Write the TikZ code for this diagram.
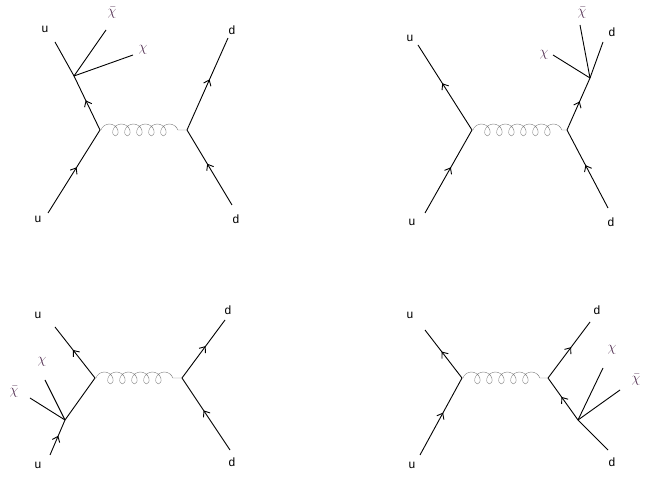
\documentclass[tikz,border=0pt]{standalone}
\usepackage{fontspec}
\setmainfont{Liberation Sans}
\usetikzlibrary{decorations.pathmorphing,decorations.markings,arrows.meta}
\begin{document}
\begin{tikzpicture}[x=1pt,y=-1pt,
 fermion/.style={draw,line width=0.9pt,postaction={decorate},decoration={markings,mark=at position 0.55 with {\arrow{Straight Barb[length=5pt,width=8pt]}}}},
 plain/.style={draw,line width=0.9pt},
 gluon/.style={draw=gray,decorate,decoration={coil,aspect=0.9,segment length=12pt,amplitude=6pt,pre length=1pt,post length=1pt}},
 lab/.style={font=\large},
 chil/.style={font=\Large,text=black!55!violet!60!gray,inner sep=0pt}]
\useasboundingbox (0,0) rectangle (654,494);
% top left
\coordinate (a1) at (48,213); \coordinate (v1) at (100,130); \coordinate (w1) at (187,130);
\coordinate (e1) at (74,76); \coordinate (o1) at (55,42); \coordinate (cb1) at (106,30); \coordinate (c1) at (133,55);
\coordinate (b1) at (232,205); \coordinate (f1) at (228,38);
\draw[fermion] (a1)--(v1); \draw[fermion] (v1)--(e1); \draw[plain] (e1)--(o1);
\draw[plain] (e1)--(cb1); \draw[plain] (e1)--(c1);
\draw[fermion] (b1)--(w1); \draw[fermion] (w1)--(f1);
\draw[gluon] (v1)--(w1);
\node[lab] (l1) at (38,219) {u}; \node[lab] (l2) at (45,29) {u};
\node[chil] (l3) at (112,13) {$\bar\chi$}; \node[chil] (l4) at (143,50) {$\chi$};
\node[lab] (l5) at (236,219) {d}; \node[lab] (l6) at (232,30) {d};
% top right
\coordinate (a2) at (425,213); \coordinate (v2) at (472,130); \coordinate (w2) at (567,130);
\coordinate (o2) at (418,45); \coordinate (b2) at (608,208);
\coordinate (e2) at (590,78); \coordinate (f2) at (603,42); \coordinate (cb2) at (580,25); \coordinate (c2) at (553,55);
\draw[fermion] (a2)--(v2); \draw[fermion] (v2)--(o2);
\draw[fermion] (b2)--(w2); \draw[fermion] (w2)--(e2); \draw[plain] (e2)--(f2);
\draw[plain] (e2)--(cb2); \draw[plain] (e2)--(c2);
\draw[gluon] (v2)--(w2);
\node[lab] (m1) at (412,222) {u}; \node[lab] (m2) at (410,38) {u};
\node[chil] (m3) at (582,13) {$\bar\chi$}; \node[chil] (m4) at (544,55) {$\chi$};
\node[lab] (m5) at (611,222) {d}; \node[lab] (m6) at (612,32) {d};
% bottom left
\coordinate (a3) at (50,455); \coordinate (e3) at (65,420); \coordinate (v3) at (95,378); \coordinate (w3) at (182,378);
\coordinate (o3) at (55,327); \coordinate (c3) at (45,380); \coordinate (cb3) at (30,398);
\coordinate (b3) at (230,450); \coordinate (f3) at (225,320);
\draw[fermion] (a3)--(e3); \draw[plain] (e3)--(v3); \draw[fermion] (v3)--(o3);
\draw[plain] (e3)--(c3); \draw[plain] (e3)--(cb3);
\draw[gluon] (v3)--(w3);
\draw[fermion] (b3)--(w3); \draw[fermion] (w3)--(f3);
\node[lab] (n1) at (38,465) {u}; \node[lab] (n2) at (38,315) {u};
\node[chil] (n3) at (42,362) {$\chi$}; \node[chil] (n4) at (14,392) {$\bar\chi$};
\node[lab] (n5) at (232,462) {d}; \node[lab] (n6) at (228,310) {d};
% bottom right
\coordinate (a4) at (420,455); \coordinate (v4) at (462,378); \coordinate (w4) at (548,378);
\coordinate (o4) at (425,330); \coordinate (f4) at (590,322);
\coordinate (b4) at (608,450); \coordinate (e4) at (578,420); \coordinate (c4) at (603,368); \coordinate (cb4) at (620,390);
\draw[fermion] (a4)--(v4); \draw[fermion] (v4)--(o4);
\draw[plain] (b4)--(e4); \draw[fermion] (e4)--(w4); \draw[fermion] (w4)--(f4);
\draw[plain] (e4)--(c4); \draw[plain] (e4)--(cb4);
\draw[gluon] (v4)--(w4);
\node[lab] (p1) at (412,465) {u}; \node[lab] (p2) at (410,315) {u};
\node[chil] (p3) at (612,350) {$\chi$}; \node[chil] (p4) at (636,380) {$\bar\chi$};
\node[lab] (p5) at (612,462) {d}; \node[lab] (p6) at (597,310) {d};
\end{tikzpicture}
\end{document}
